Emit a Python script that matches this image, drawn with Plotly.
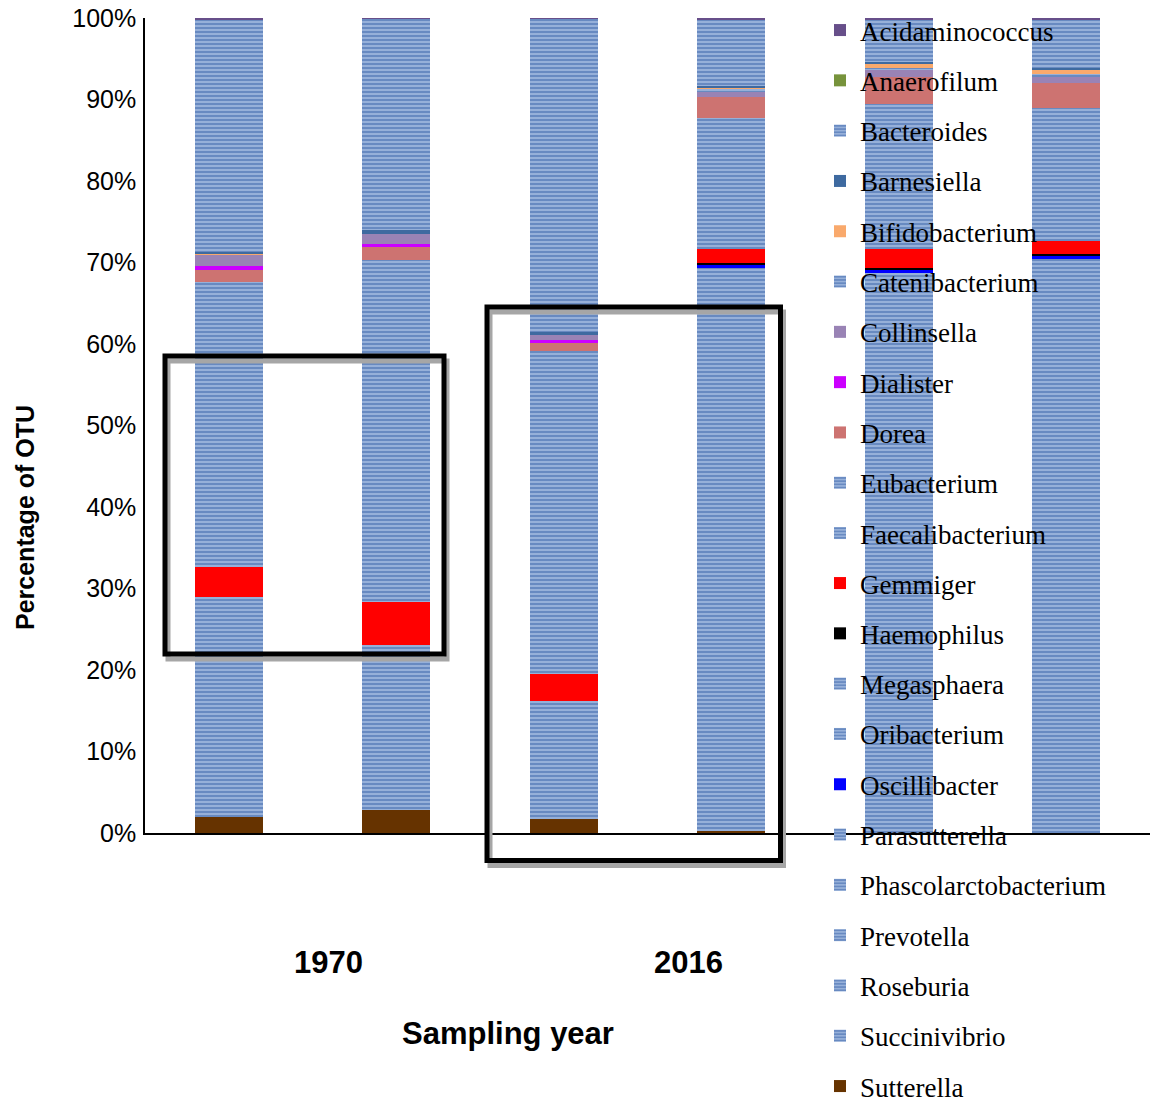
import plotly.graph_objects as go

# Six sequenced samples shown as 100% stacked columns
samples = [0, 1, 2, 3, 4, 5]

# Relative abundance per genus (% of OTUs), one value per sample
sutterella = [2.0, 2.8, 1.7, 0.2, 0.0, 0.0]
succinivibrio = [0.0, 0.0, 0.0, 5.0, 4.0, 6.9]
roseburia = [9.0, 6.0, 5.0, 8.0, 8.0, 7.0]
prevotella = [1.5, 1.0, 1.0, 45.0, 45.0, 45.5]
phascolarctobacterium = [4.5, 3.3, 3.5, 8.15, 8.7, 8.0]
parasutterella = [1.0, 1.0, 1.0, 3.0, 3.0, 3.0]
oscillibacter = [0.0, 0.0, 0.0, 0.45, 0.5, 0.5]
oribacterium = [1.0, 1.0, 1.0, 0.0, 0.0, 0.0]
megasphaera = [10.0, 8.0, 3.0, 0.0, 0.0, 0.0]
haemophilus = [0.0, 0.0, 0.0, 0.1, 0.1, 0.1]
gemmiger = [3.6, 5.3, 3.3, 1.75, 2.4, 1.6]
faecalibacterium = [26.0, 30.0, 35.8, 12.0, 13.0, 12.0]
eubacterium = [9.0, 11.9, 3.8, 4.05, 4.75, 4.4]
dorea = [1.5, 1.6, 1.0, 2.6, 3.35, 3.0]
dialister = [0.5, 0.37, 0.37, 0.0, 0.0, 0.0]
collinsella = [1.35, 1.23, 0.6, 0.6, 0.8, 0.7]
catenibacterium = [0.0, 0.0, 0.0, 0.4, 0.3, 0.4]
bifidobacterium = [0.15, 0.0, 0.0, 0.2, 0.5, 0.5]
barnesiella = [0.25, 0.5, 0.37, 0.2, 0.25, 0.25]
bacteroides = [28.5, 25.9, 38.46, 8.05, 5.1, 5.9]
anaerofilum = [0.0, 0.0, 0.0, 0.0, 0.0, 0.0]
acidaminococcus = [0.15, 0.1, 0.1, 0.25, 0.25, 0.25]

# y-axis ticks
tick_values = [0, 10, 20, 30, 40, 50, 60, 70, 80, 90, 100]
tick_labels = [f"{v}%" for v in tick_values]

# Stacking order, bottom to top; None means the striped blue fill
series = [
    ("Sutterella", sutterella, "#663300"),
    ("Succinivibrio", succinivibrio, None),
    ("Roseburia", roseburia, None),
    ("Prevotella", prevotella, None),
    ("Phascolarctobacterium", phascolarctobacterium, None),
    ("Parasutterella", parasutterella, None),
    ("Oscillibacter", oscillibacter, "#0000ff"),
    ("Oribacterium", oribacterium, None),
    ("Megasphaera", megasphaera, None),
    ("Haemophilus", haemophilus, "#000000"),
    ("Gemmiger", gemmiger, "#ff0000"),
    ("Faecalibacterium", faecalibacterium, None),
    ("Eubacterium", eubacterium, None),
    ("Dorea", dorea, "#cd7371"),
    ("Dialister", dialister, "#cc00ff"),
    ("Collinsella", collinsella, "#9983b5"),
    ("Catenibacterium", catenibacterium, None),
    ("Bifidobacterium", bifidobacterium, "#f9a96c"),
    ("Barnesiella", barnesiella, "#3e6aa0"),
    ("Bacteroides", bacteroides, None),
    ("Anaerofilum", anaerofilum, "#77933c"),
    ("Acidaminococcus", acidaminococcus, "#674f8a"),
]

STRIPES = dict(shape="-", fgcolor="#3a64aa", bgcolor="#96b0d9", size=4, solidity=0.5)

n = len(series)
fig = go.Figure()
for i, (name, vals, color) in enumerate(series):
    if color is None:
        marker = dict(color="#96b0d9", pattern=STRIPES, line=dict(width=0))
    else:
        marker = dict(color=color, line=dict(width=0))
    # legend lists genera top of stack first, split over two blocks
    fig.add_trace(go.Bar(
        x=samples, y=vals, name=name, marker=marker,
        legendgroup=name, legendrank=n - i,
        legend="legend2" if i <= 10 else "legend",
        hovertemplate=name + ": %{y:.2f}%<extra></extra>",
    ))

W, H = 1152, 1099
px = lambda v: v / W
py = lambda v: 1 - v / H

legend_font = dict(family="Liberation Serif, Times New Roman, serif", size=27, color="black")
legend_common = dict(
    xanchor="left", yanchor="top", traceorder="grouped",
    tracegroupgap=12.2, font=legend_font, bgcolor="rgba(0,0,0,0)", borderwidth=0,
)

fig.update_layout(
    width=W, height=H, barmode="stack", bargap=0.595,
    margin=dict(l=0, r=0, t=0, b=0, autoexpand=False),
    plot_bgcolor="white", paper_bgcolor="white",
    showlegend=True,
    xaxis=dict(domain=[px(145), px(1150)], range=[-0.5, 5.5], showticklabels=False,
               showline=True, linecolor="black", linewidth=1.5, ticks="",
               showgrid=False, zeroline=False),
    yaxis=dict(domain=[py(833), py(18)], range=[0, 100], tickvals=tick_values,
               ticktext=tick_labels, showline=True, linecolor="black", linewidth=1.5,
               ticks="", showgrid=False, zeroline=False, ticklabelstandoff=2,
               tickfont=dict(family="Liberation Sans, Arial, sans-serif", size=25, color="black")),
    legend=dict(x=px(820), y=py(6), **legend_common),
    legend2=dict(x=px(820), y=py(559), **legend_common),
)

# Highlight boxes with a soft grey drop shadow
boxes = [(165, 356, 444, 654), (487, 307, 780.5, 860.5)]
for (x0, y0, x1, y1) in boxes:
    fig.add_shape(type="rect", xref="paper", yref="paper",
                  x0=px(x0 + 3), x1=px(x1 + 3), y0=py(y0 + 5), y1=py(y1 + 5),
                  line=dict(color="#a6a6a6", width=5), fillcolor="rgba(0,0,0,0)")
    fig.add_shape(type="rect", xref="paper", yref="paper",
                  x0=px(x0), x1=px(x1), y0=py(y0), y1=py(y1),
                  line=dict(color="black", width=5), fillcolor="rgba(0,0,0,0)")

bold = dict(family="Liberation Sans, Arial, sans-serif", color="black")
labels = [
    ("<b>1970</b>", 328, 963, 31, 0),
    ("<b>2016</b>", 688, 963, 31, 0),
    ("<b>Sampling year</b>", 508, 1033, 31, 0),
    ("<b>Percentage of OTU</b>", 25, 518, 25, -90),
]
for text, lx, ly, size, angle in labels:
    fig.add_annotation(text=text, x=px(lx), y=py(ly), xref="paper", yref="paper",
                       xanchor="center", yanchor="middle", showarrow=False,
                       textangle=angle, font=dict(size=size, **bold))

fig.write_html("out.html")
